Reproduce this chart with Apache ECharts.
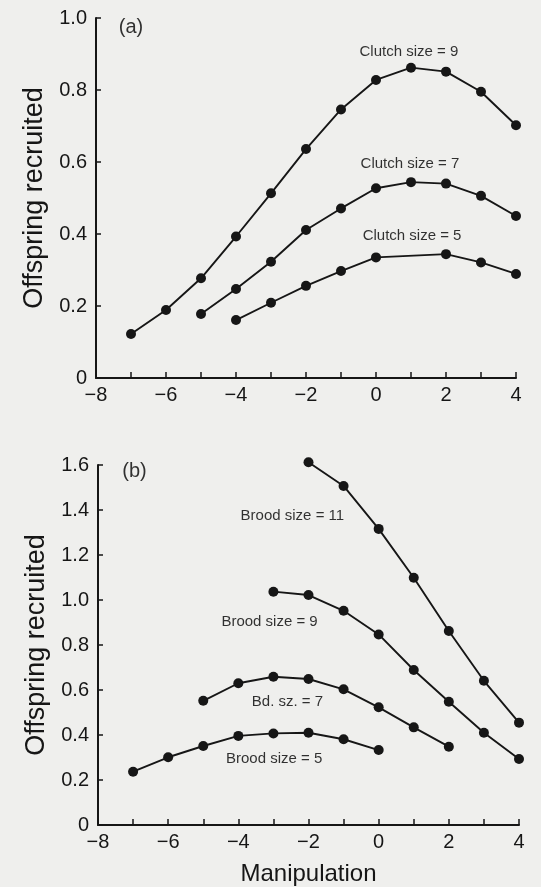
<!DOCTYPE html>
<html>
<head>
<meta charset="utf-8">
<script src="https://cdn.jsdelivr.net/npm/echarts@6/dist/echarts.min.js"></script>
<style>
html,body{margin:0;padding:0;background:#efefed;}
#chart{width:541px;height:887px;}
</style>
</head>
<body>
<div id="chart"></div>
<script>
// Panel (a): clutch size curves (x = manipulation, y = offspring recruited)
var clutch9X = [-7,-6,-5,-4,-3,-2,-1,0,1,2,3,4];
var clutch9Y = [0.122,0.189,0.277,0.393,0.513,0.636,0.746,0.828,0.862,0.851,0.795,0.702];
var clutch7X = [-5,-4,-3,-2,-1,0,1,2,3,4];
var clutch7Y = [0.178,0.247,0.323,0.411,0.471,0.527,0.544,0.540,0.506,0.450];
var clutch5X = [-4,-3,-2,-1,0,2,3,4];
var clutch5Y = [0.161,0.209,0.256,0.297,0.335,0.344,0.321,0.289];

// Panel (b): brood size curves
var brood11X = [-2,-1,0,1,2,3,4];
var brood11Y = [1.612,1.507,1.316,1.099,0.862,0.641,0.455];
var brood9X = [-3,-2,-1,0,1,2,3,4];
var brood9Y = [1.037,1.022,0.952,0.847,0.689,0.548,0.410,0.293];
var brood7X = [-5,-4,-3,-2,-1,0,1,2];
var brood7Y = [0.552,0.630,0.659,0.649,0.603,0.523,0.434,0.348];
var brood5X = [-7,-6,-5,-4,-3,-2,-1,0];
var brood5Y = [0.237,0.301,0.351,0.396,0.407,0.410,0.381,0.333];

// Annotation texts and their anchor positions (data units)
var labelsA = ['Clutch size = 9','Clutch size = 7','Clutch size = 5'];
var labelsAX = [0.94,0.97,1.03];
var labelsAY = [0.906,0.594,0.394];
var labelsB = ['Brood size = 11','Brood size = 9','Bd. sz. = 7','Brood size = 5'];
var labelsBX = [-2.46,-3.11,-2.60,-2.98];
var labelsBY = [1.373,0.904,0.548,0.293];
var panelTags = ['(a)','(b)'];
var panelTagX = [-7.0,-6.96];
var panelTagY = [0.975,1.570];

var xTickLabels = {'-8':'\u22128','-6':'\u22126','-4':'\u22124','-2':'\u22122','0':'0','2':'2','4':'4'};

function zip(xs, ys){ return xs.map(function(x,i){return [x, ys[i]];}); }

var ink = '#161616';
var font = 'Liberation Sans';

function xAxis(gi){
  return {
    type:'value', gridIndex:gi, min:-8, max:4, interval:1,
    axisLine:{show:true, onZero:false, lineStyle:{color:ink, width:2}},
    axisTick:{show:true, inside:true, length:6, lineStyle:{color:ink, width:1.5}},
    splitLine:{show:false},
    axisLabel:{color:ink, fontFamily:font, fontSize:20, margin:7,
      formatter:function(v){ return xTickLabels[String(v)] || ''; }},
    name: gi===1 ? 'Manipulation' : '',
    nameLocation:'middle', nameGap:37,
    nameTextStyle:{color:ink, fontFamily:font, fontSize:24}
  };
}
function yAxis(gi, max){
  return {
    type:'value', gridIndex:gi, min:0, max:max, interval:0.2,
    axisLine:{show:true, onZero:false, lineStyle:{color:ink, width:2}},
    axisTick:{show:true, inside:true, length:5, lineStyle:{color:ink, width:1.5}},
    splitLine:{show:false},
    axisLabel:{color:ink, fontFamily:font, fontSize:20, margin:9,
      formatter:function(v){ return v===0 ? '0' : v.toFixed(1); }},
    name:'Offspring recruited', nameLocation:'middle', nameGap:46, nameRotate:90,
    nameTextStyle:{color:ink, fontFamily:font, fontSize:27}
  };
}
function lineSeries(xs, ys, gi){
  return {
    type:'line', xAxisIndex:gi, yAxisIndex:gi, data:zip(xs, ys),
    symbol:'circle', symbolSize:10, showSymbol:true, clip:false,
    lineStyle:{color:ink, width:1.9}, itemStyle:{color:ink},
    animation:false, silent:true
  };
}
function textSeries(texts, xs, ys, gi, size){
  return {
    type:'scatter', xAxisIndex:gi, yAxisIndex:gi, symbolSize:0,
    itemStyle:{color:ink},
    data: texts.map(function(t,i){ return {value:[xs[i], ys[i]], name:t}; }),
    label:{show:true, position:'inside', formatter:'{b}', color:'#000',
      textBorderWidth:0, fontFamily:font, fontSize:size},
    animation:false, silent:true
  };
}

var option = {
  backgroundColor:'#efefed',
  animation:false,
  grid:[
    {left:96, top:18, width:420, height:360},
    {left:98, top:465, width:421, height:360}
  ],
  xAxis:[xAxis(0), xAxis(1)],
  yAxis:[yAxis(0,1.0), yAxis(1,1.6)],
  series:[
    lineSeries(clutch9X, clutch9Y, 0),
    lineSeries(clutch7X, clutch7Y, 0),
    lineSeries(clutch5X, clutch5Y, 0),
    lineSeries(brood11X, brood11Y, 1),
    lineSeries(brood9X, brood9Y, 1),
    lineSeries(brood7X, brood7Y, 1),
    lineSeries(brood5X, brood5Y, 1),
    textSeries(labelsA, labelsAX, labelsAY, 0, 15),
    textSeries(labelsB, labelsBX, labelsBY, 1, 15),
    textSeries([panelTags[0]], [panelTagX[0]], [panelTagY[0]], 0, 20),
    textSeries([panelTags[1]], [panelTagX[1]], [panelTagY[1]], 1, 20)
  ]
};
var chart = echarts.init(document.getElementById('chart'), null, {renderer:'canvas'});
chart.setOption(option);
</script>
</body>
</html>
